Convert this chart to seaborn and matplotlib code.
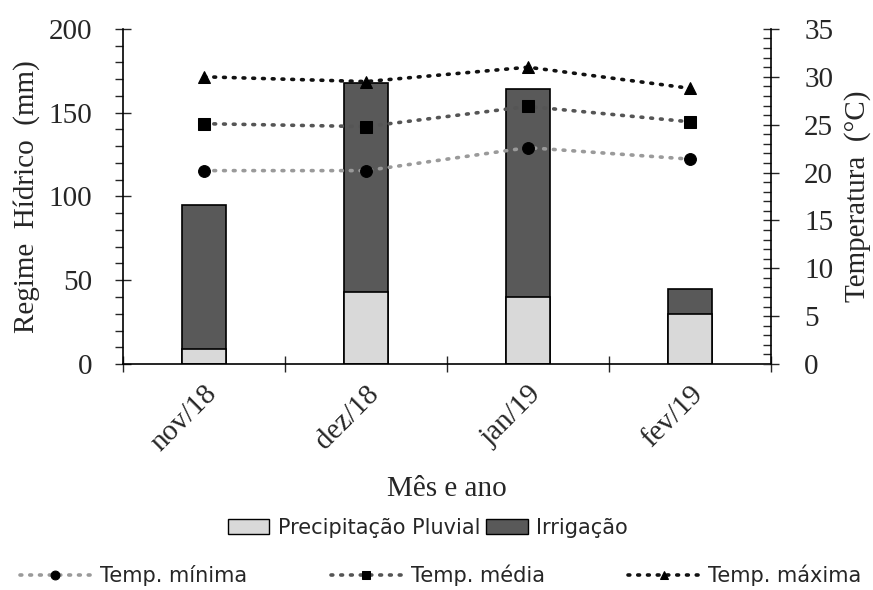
import pandas as pd
import numpy as np
import matplotlib
matplotlib.use('Agg')
import matplotlib.pyplot as plt
import seaborn as sns
from matplotlib.ticker import MultipleLocator
from matplotlib.patches import Patch

# Dados
meses = ['nov/18', 'dez/18', 'jan/19', 'fev/19']
precipitacao = [9, 43, 40, 30]
irrigacao = [86, 125, 124, 15]
temp_min = [20.2, 20.2, 22.6, 21.4]
temp_media = [25.1, 24.8, 26.9, 25.3]
temp_max = [30.0, 29.5, 31.0, 28.8]

sns.set_style('white')
plt.rcParams['font.family'] = ['Liberation Serif', 'DejaVu Serif']

df = pd.DataFrame({'mes': meses, 'precip': precipitacao, 'irrig': irrigacao,
                   'tmin': temp_min, 'tmed': temp_media, 'tmax': temp_max})
df['total'] = df['precip'] + df['irrig']

fig = plt.figure(figsize=(8.73, 5.90), dpi=100)
ax = fig.add_axes([0.141, 0.383, 0.742, 0.568])

# Barras empilhadas: total (irrigação) por trás, precipitação à frente
sns.barplot(data=df, x='mes', y='total', color='#595959', edgecolor='black',
            linewidth=1.2, width=0.27, saturation=1, ax=ax)
sns.barplot(data=df, x='mes', y='precip', color='#d9d9d9', edgecolor='black',
            linewidth=1.2, width=0.27, saturation=1, ax=ax)

ax.set_xlim(-0.5, 3.5)
ax.set_ylim(0, 200)
ax.yaxis.set_major_locator(MultipleLocator(50))
ax.yaxis.set_minor_locator(MultipleLocator(10))
ax.set_xticks(np.arange(len(meses)))
ax.set_xticklabels(meses, rotation=45, ha='right', rotation_mode='anchor', fontsize=21)
ax.set_xticks(np.arange(-0.5, 4, 1), minor=True)
ax.tick_params(axis='x', which='major', length=0, pad=12, bottom=False)
ax.tick_params(axis='x', which='minor', length=12, direction='inout', width=1,
               bottom=True)
ax.tick_params(axis='y', which='major', length=12, direction='inout', width=1,
               labelsize=21, left=True, pad=16)
ax.tick_params(axis='y', which='minor', length=6, direction='out', width=1, left=True)
ax.set_xlabel('Mês e ano', fontsize=21, labelpad=14)
ax.set_ylabel('Regime  Hídrico  (mm)', fontsize=21, labelpad=6)
for s in ['top', 'right']:
    ax.spines[s].set_visible(False)
for s in ['left', 'bottom']:
    ax.spines[s].set_color('black')
    ax.spines[s].set_linewidth(1.2)

# Temperaturas no eixo secundário
ax2 = ax.twinx()
estilos = [('tmin', '#9a9a9a', 'o', 'Temp. mínima'),
           ('tmed', '#555555', 's', 'Temp. média'),
           ('tmax', '#111111', '^', 'Temp. máxima')]
for col, cor, mk, nome in estilos:
    sns.lineplot(data=df, x='mes', y=col, ax=ax2, color=cor, linewidth=2.6,
                 linestyle=(0, (0.5, 2.2)), dash_capstyle='round',
                 marker=mk, markersize=8.5, markerfacecolor='black',
                 markeredgecolor='black', label=nome, legend=False)
ax2.set_xlim(-0.5, 3.5)
ax2.set_ylim(0, 35)
ax2.yaxis.set_major_locator(MultipleLocator(5))
ax2.yaxis.set_minor_locator(MultipleLocator(1))
ax2.tick_params(axis='y', which='major', length=12, direction='inout', width=1,
                labelsize=21, right=True, pad=18)
ax2.tick_params(axis='y', which='minor', length=6, direction='in', width=1, right=True)
ax2.set_ylabel('Temperatura  (°C)', fontsize=21, labelpad=8)
ax2.set_xlabel('')
for s in ['top', 'left', 'bottom']:
    ax2.spines[s].set_visible(False)
ax2.spines['right'].set_color('black')
ax2.spines['right'].set_linewidth(1.2)

# Legendas
leg_font = {'family': 'DejaVu Sans', 'size': 15}
h_bar = [Patch(facecolor='#d9d9d9', edgecolor='black', label='Precipitação Pluvial'),
         Patch(facecolor='#595959', edgecolor='black', label='Irrigação')]
fig.legend(handles=h_bar, loc='center', bbox_to_anchor=(0.49, 0.105), ncol=2,
           frameon=False, prop=leg_font, handlelength=2.0, handleheight=0.7,
           columnspacing=0.3, handletextpad=0.4)
h_lin, l_lin = ax2.get_legend_handles_labels()
fig.legend(handles=h_lin, labels=l_lin, loc='center', bbox_to_anchor=(0.505, 0.025),
           ncol=3, frameon=False, prop=leg_font, handlelength=3.4,
           columnspacing=4.0, handletextpad=0.45, markerscale=0.75)

fig.savefig('out.png', dpi=100)
